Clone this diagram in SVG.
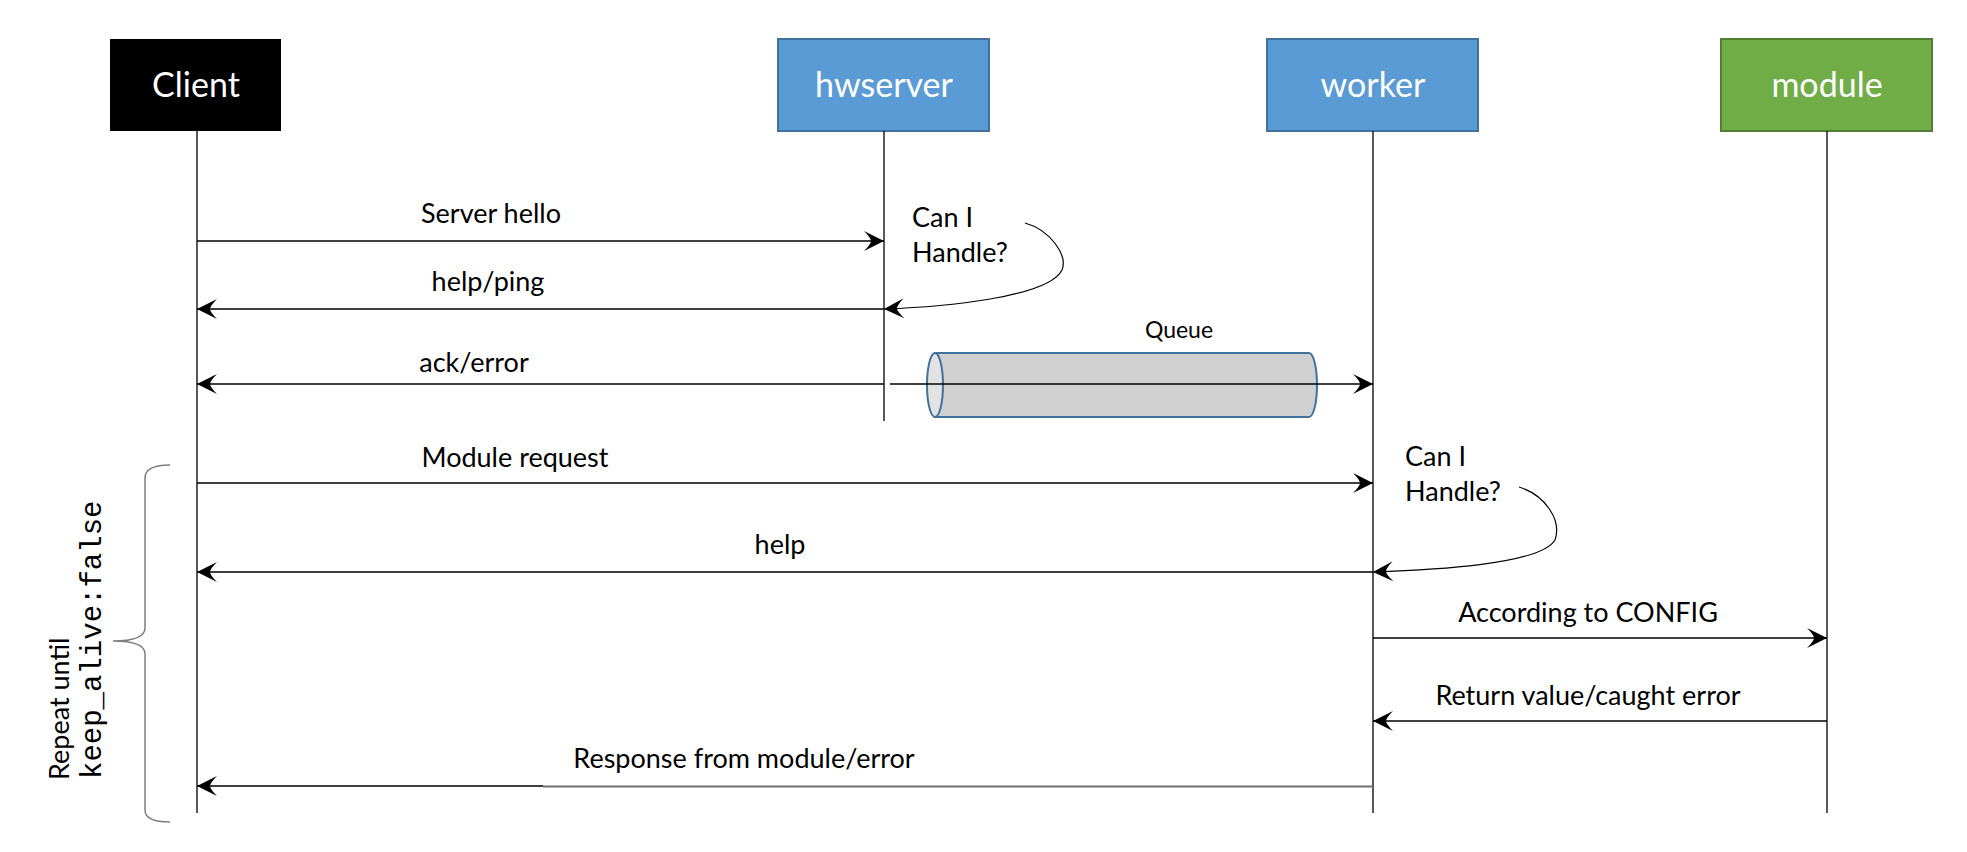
<svg xmlns="http://www.w3.org/2000/svg" width="1967" height="852" viewBox="0 0 1967 852">
<style>
.lbl{font-family:Lato,"Open Sans","Liberation Sans",sans-serif;font-size:27px;fill:#000}
.hdr{font-family:Lato,"Open Sans","Liberation Sans",sans-serif;font-size:34px;fill:#fff;text-anchor:middle}
.mid{text-anchor:middle}
.life{stroke:#000;stroke-width:1.3;fill:none}
.msg{stroke:#000;stroke-width:1.5;fill:none}
.arr{marker-end:url(#ah)}
</style>
<defs>
<marker id="ah" markerUnits="userSpaceOnUse" markerWidth="24" markerHeight="24" viewBox="-22 -12 24 24" refX="0" refY="0" orient="auto">
<path d="M0,0 L-20,-10 Q-13,-3 -13,0 Q-13,3 -20,10 Z" fill="#000"/>
</marker>
</defs>
<rect width="1967" height="852" fill="#fff"/>

<g id="client">
<rect x="110" y="39" width="171" height="92" fill="#000"/>
<text class="hdr" x="196" y="97">Client</text>
<line class="life" x1="197" y1="131" x2="197" y2="813"/>
</g>
<g id="hwserver">
<rect x="778" y="39" width="211" height="92" fill="#5B9BD5" stroke="#41719C" stroke-width="2"/>
<text class="hdr" x="884" y="97">hwserver</text>
<line class="life" x1="884" y1="131" x2="884" y2="421"/>
</g>
<g id="worker">
<rect x="1267" y="39" width="211" height="92" fill="#5B9BD5" stroke="#41719C" stroke-width="2"/>
<text class="hdr" x="1373" y="97">worker</text>
<line class="life" x1="1373" y1="131" x2="1373" y2="813"/>
</g>
<g id="module">
<rect x="1721" y="39" width="211" height="92" fill="#70AD47" stroke="#507E32" stroke-width="2"/>
<text class="hdr" x="1827" y="97">module</text>
<line class="life" x1="1827" y1="131" x2="1827" y2="813"/>
</g>

<g id="queue">
<path d="M935,353 L1309,353 A8,32 0 0 1 1309,417 L935,417 Z" fill="#D0D0D0" stroke="#41719C" stroke-width="2"/>
<ellipse cx="935" cy="385" rx="8" ry="32" fill="#E2E2E2" stroke="#41719C" stroke-width="2"/>
<text class="lbl mid" x="1179" y="338" style="font-size:23px">Queue</text>
</g>

<g id="loop">
<path d="M170,465 Q145,465 145,478 L145,628 Q145,641 113,641 Q145,641 145,654 L145,810 Q145,822 170,822" fill="none" stroke="#7F7F7F" stroke-width="1.5"/>
<text class="lbl" transform="translate(69,780) rotate(-90)">Repeat until</text>
<text transform="translate(101,779) rotate(-90)" style="font-family:'Liberation Mono','Courier New',monospace;font-size:29px;fill:#000">keep_alive:false</text>
</g>

<g id="connectors">
<line class="msg arr" x1="197" y1="241" x2="884" y2="241"/>
<line class="msg arr" x1="884" y1="309" x2="197" y2="309"/>
<path class="msg arr" d="M1025,223 C1050,230 1068,255 1062,270 C1048,298 940,307 884,309" style="stroke-width:1.2"/>
<line class="msg arr" x1="884" y1="384" x2="197" y2="384"/>
<line class="msg arr" x1="890" y1="384" x2="1373" y2="384"/>
<line class="msg arr" x1="197" y1="483" x2="1373" y2="483"/>
<path class="msg arr" d="M1519,487 C1545,495 1562,520 1555,540 C1540,565 1430,570 1373,572" style="stroke-width:1.2"/>
<line class="msg arr" x1="1373" y1="572" x2="197" y2="572"/>
<line class="msg arr" x1="1373" y1="638" x2="1827" y2="638"/>
<line class="msg arr" x1="1827" y1="721" x2="1373" y2="721"/>
<line x1="1373" y1="786.5" x2="543" y2="786.5" stroke="#6E6E6E" stroke-width="1.8"/>
<line class="msg arr" x1="543" y1="786" x2="197" y2="786"/>
</g>

<g id="labels">
<text class="lbl mid" x="491" y="223">Server hello</text>
<text class="lbl mid" x="488" y="291">help/ping</text>
<text class="lbl mid" x="474" y="372">ack/error</text>
<text class="lbl" x="912" y="227">Can I</text>
<text class="lbl" x="912" y="262">Handle?</text>
<text class="lbl mid" x="515" y="467">Module request</text>
<text class="lbl" x="1405" y="466">Can I</text>
<text class="lbl" x="1405" y="501">Handle?</text>
<text class="lbl mid" x="780" y="554">help</text>
<text class="lbl mid" x="1588" y="622">According to CONFIG</text>
<text class="lbl mid" x="1588" y="705">Return value/caught error</text>
<text class="lbl mid" x="744" y="768">Response from module/error</text>
</g>
</svg>
